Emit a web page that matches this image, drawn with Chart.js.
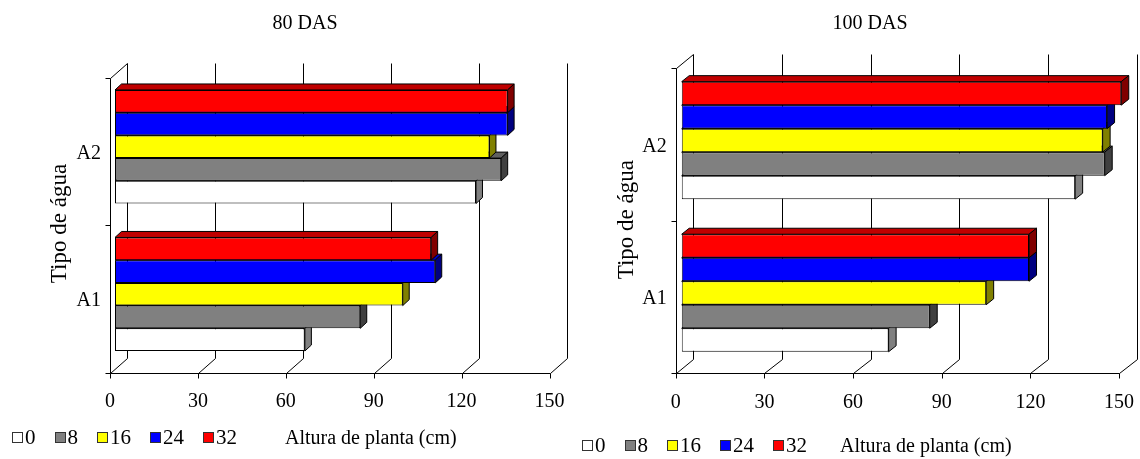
<!DOCTYPE html>
<html>
<head>
<meta charset="utf-8">
<script src="https://cdn.jsdelivr.net/npm/chart.js@4.4.1/dist/chart.umd.min.js"></script>
<style>
  body { margin: 0; background: #fff; width: 1140px; height: 459px; position: relative; overflow: hidden;
         font-family: "Liberation Serif", "Times New Roman", serif; color: #000; }
  canvas { position: absolute; top: 0; }
  .txt { position: absolute; font-size: 20px; line-height: 20px; white-space: nowrap; }
  .legend { position: absolute; display: flex; align-items: center; font-size: 21px; line-height: 21px; }
  .legend span.box { display: inline-block; width: 9px; height: 9px; border: 1px solid #333; margin-right: 2px; box-sizing: content-box; }
  .legend span.lab { margin-right: 19px; }
</style>
</head>
<body>
<canvas id="chart80" width="570" height="459" style="left:0"></canvas>
<canvas id="chart100" width="570" height="459" style="left:570px"></canvas>

<div class="txt" style="left:305px; top:12px; transform:translateX(-50%)">80 DAS</div>
<div class="txt" style="left:870px; top:12px; transform:translateX(-50%)">100 DAS</div>
<div class="txt" style="left:285px; top:427px">Altura de planta (cm)</div>
<div class="txt" style="left:840px; top:435px">Altura de planta (cm)</div>
<div class="legend" id="legend80" style="left:12px; top:427px"></div>
<div class="legend" id="legend100" style="left:582px; top:435px"></div>

<script>
// dados
const waterTypes = ["A2", "A1"];
const doses = ["0", "8", "16", "24", "32"];
const xTicks = [0, 30, 60, 90, 120, 150];

// 80 DAS: [A2, A1] por dose
const das80_0 = [123.2, 64.8];
const das80_8 = [131.8, 83.7];
const das80_16 = [127.8, 98.2];
const das80_24 = [134.0, 109.3];
const das80_32 = [134.0, 107.9];

// 100 DAS
const das100_0 = [133.1, 70.0];
const das100_8 = [143.1, 83.9];
const das100_16 = [142.4, 103.0];
const das100_24 = [143.9, 117.5];
const das100_32 = [148.7, 117.5];

// cores (frente, topo, lado)
const fillColors = ["#FFFFFF", "#808080", "#FFFF00", "#0000FF", "#FF0000"];
const topColors = ["#C0C0C0", "#606060", "#C0C000", "#0000C0", "#C00000"];
const sideColors = ["#808080", "#404040", "#808000", "#000080", "#800000"];

const FONT = '20px "Liberation Serif", "Times New Roman", serif';
const TITLE_FONT = '23px "Liberation Serif", "Times New Roman", serif';

// desenha paredes, grade e faces 3D das barras
const depth3d = {
  id: "depth3d",
  beforeDatasetsDraw(chart, args, g) {
    const { ctx, chartArea: ca } = chart;
    const xs = chart.scales.x, ys = chart.scales.y;
    const r = (v) => Math.round(v) + 0.5;
    const line = (x1, y1, x2, y2) => {
      ctx.beginPath();
      ctx.moveTo(r(x1), r(y1));
      ctx.lineTo(r(x2), r(y2));
      ctx.stroke();
    };

    ctx.save();
    ctx.lineWidth = 1;
    ctx.strokeStyle = "#000";

    const fTop = ca.top + g.front.dy, fBot = ca.bottom + g.front.dy;
    const bTop = ca.top + g.back.dy, bBot = ca.bottom + g.back.dy;

    xTicks.forEach((v) => {
      const px = xs.getPixelForValue(v);
      line(px + g.back.dx, bTop, px + g.back.dx, bBot);
      line(px + g.front.dx, fBot, px + g.back.dx, bBot);
      line(px + g.front.dx, fBot, px + g.front.dx, fBot + 5);
    });

    const x0f = xs.getPixelForValue(0) + g.front.dx;
    const xEnd = xs.getPixelForValue(xTicks[xTicks.length - 1]) + g.front.dx;
    line(x0f, fBot, xEnd, fBot);
    line(x0f, fTop, x0f, fBot);
    line(x0f, fTop, xs.getPixelForValue(0) + g.back.dx, bTop);
    const mid = (ys.getPixelForValue(0) + ys.getPixelForValue(1)) / 2 + g.front.dy;
    [fTop, mid, fBot].forEach((py) => line(x0f - 5, py, x0f, py));

    // faces 3D, de baixo para cima em cada grupo
    const dx = g.bar.dx, dy = g.bar.dy;
    const n = chart.data.datasets.length;
    chart.data.labels.forEach((lab, j) => {
      for (let i = n - 1; i >= 0; i--) {
        const bar = chart.getDatasetMeta(i).data[j];
        const ds = chart.data.datasets[i];
        const yt = bar.y - bar.height / 2, yb = bar.y + bar.height / 2;
        const x0 = bar.base, xe = bar.x;

        ctx.beginPath();
        ctx.moveTo(x0, yt);
        ctx.lineTo(xe, yt);
        ctx.lineTo(xe + dx, yt + dy);
        ctx.lineTo(x0 + dx, yt + dy);
        ctx.closePath();
        ctx.fillStyle = ds.topColor;
        ctx.fill();
        ctx.stroke();

        ctx.beginPath();
        ctx.moveTo(xe, yt);
        ctx.lineTo(xe, yb);
        ctx.lineTo(xe + dx, yb + dy);
        ctx.lineTo(xe + dx, yt + dy);
        ctx.closePath();
        ctx.fillStyle = ds.sideColor;
        ctx.fill();
        ctx.stroke();
      }
    });
    ctx.restore();
  },
  afterDraw(chart, args, g) {
    const { ctx, chartArea: ca } = chart;
    const xs = chart.scales.x, ys = chart.scales.y;
    ctx.save();
    ctx.font = FONT;
    ctx.fillStyle = "#000";
    ctx.textBaseline = "middle";

    ctx.textAlign = "center";
    xTicks.forEach((v) => {
      ctx.fillText(String(v), xs.getPixelForValue(v) + g.front.dx, ca.bottom + g.front.dy + 29);
    });

    ctx.textAlign = "right";
    const x0f = xs.getPixelForValue(0) + g.front.dx;
    chart.data.labels.forEach((lab, j) => {
      ctx.fillText(lab, x0f - 9, ys.getPixelForValue(j) + g.front.dy + 2);
    });

    ctx.font = TITLE_FONT;
    ctx.translate(ca.left - 55, (ca.top + ca.bottom) / 2 + 3);
    ctx.rotate(-Math.PI / 2);
    ctx.textAlign = "center";
    ctx.fillText("Tipo de água", 0, 0);
    ctx.restore();
  },
};

function makeDatasets(series) {
  // a barra de dose 32 fica no topo de cada grupo
  return series
    .map((data, i) => ({
      label: doses[i],
      data,
      backgroundColor: fillColors[i],
      topColor: topColors[i],
      sideColor: sideColors[i],
      borderColor: "#000",
      borderWidth: 1,
      borderSkipped: false,
    }))
    .reverse();
}

function makeChart(id, series, padding, geom) {
  return new Chart(document.getElementById(id), {
    type: "bar",
    data: { labels: waterTypes, datasets: makeDatasets(series) },
    options: {
      indexAxis: "y",
      responsive: false,
      animation: false,
      layout: { padding },
      datasets: { bar: { categoryPercentage: 0.77, barPercentage: 1 } },
      scales: {
        x: { type: "linear", min: 0, max: 150, display: false },
        y: { display: false },
      },
      plugins: {
        legend: { display: false },
        tooltip: { enabled: false },
        depth3d: geom,
      },
    },
    plugins: [depth3d],
  });
}

makeChart(
  "chart80",
  [das80_0, das80_8, das80_16, das80_24, das80_32],
  { left: 115, right: 15.5, top: 73, bottom: 91 },
  { front: { dx: -5, dy: 4.5 }, back: { dx: 12.3, dy: -9.9 }, bar: { dx: 6.5, dy: -6 } }
);

makeChart(
  "chart100",
  [das100_0, das100_8, das100_16, das100_24, das100_32],
  { left: 111.7, right: 14.9, top: 64.1, bottom: 89.7 },
  { front: { dx: -6, dy: 4.2 }, back: { dx: 11.6, dy: -10.3 }, bar: { dx: 7.5, dy: -6 } }
);

// legendas
function buildLegend(id) {
  const el = document.getElementById(id);
  doses.forEach((d, i) => {
    const box = document.createElement("span");
    box.className = "box";
    box.style.background = fillColors[i];
    const lab = document.createElement("span");
    lab.className = "lab";
    lab.textContent = d;
    el.appendChild(box);
    el.appendChild(lab);
  });
}
buildLegend("legend80");
buildLegend("legend100");
</script>
</body>
</html>
